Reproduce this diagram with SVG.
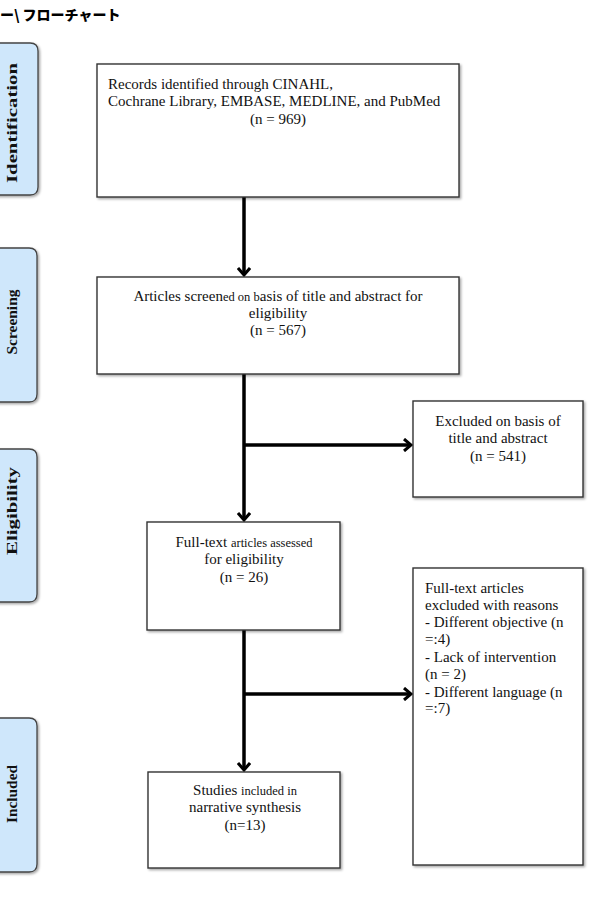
<svg xmlns="http://www.w3.org/2000/svg" width="597" height="912" viewBox="0 0 597 912">
<defs>
<style>
.tab{fill:#cfe7fb;stroke:#444;stroke-width:1.3}
.tabt{font-family:"Liberation Serif",serif;font-weight:bold;font-size:14px;fill:#111;text-anchor:middle}
.box{fill:#fff;stroke:#333;stroke-width:1.4}
.t{font-family:"Liberation Serif",serif;font-size:15px;fill:#111}
.c{text-anchor:middle}
.sm{font-size:12.5px}
.ln{stroke:#000;stroke-width:3.5;fill:none}
</style>
<filter id="sh" x="-5%" y="-5%" width="115%" height="115%">
<feDropShadow dx="1.5" dy="1.5" stdDeviation="1" flood-color="#000" flood-opacity="0.35"/>
</filter>
<marker id="ah" markerWidth="12" markerHeight="14" refX="9" refY="7" orient="auto" markerUnits="userSpaceOnUse">
<path d="M2,1 L9,7 L2,13" fill="none" stroke="#000" stroke-width="3"/>
</marker>
</defs>
<rect width="597" height="912" fill="#fff"/>
<text x="0" y="20" font-family="'Noto Sans CJK JP',sans-serif" font-weight="900" font-size="14" fill="#000">ー\ フローチャート</text>

<g id="tab-identification">
<path class="tab" d="M-5,43 H30 Q38,43 38,51 V187 Q38,195 30,195 H-5 Z" filter="url(#sh)"/>
<text class="tabt" transform="translate(17,123) rotate(-90)" textLength="120" lengthAdjust="spacingAndGlyphs">Identification</text>
</g>
<g id="tab-screening">
<path class="tab" d="M-5,248 H29 Q37,248 37,256 V394 Q37,402 29,402 H-5 Z" filter="url(#sh)"/>
<text class="tabt" transform="translate(17,322) rotate(-90)" textLength="65" lengthAdjust="spacingAndGlyphs">Screening</text>
</g>
<g id="tab-eligibility">
<path class="tab" d="M-5,449 H29 Q37,449 37,457 V594 Q37,602 29,602 H-5 Z" filter="url(#sh)"/>
<text class="tabt" transform="translate(17,511) rotate(-90)" textLength="88" lengthAdjust="spacingAndGlyphs">Eligibility</text>
</g>
<g id="tab-included">
<path class="tab" d="M-5,718 H29 Q37,718 37,726 V864 Q37,872 29,872 H-5 Z" filter="url(#sh)"/>
<text class="tabt" transform="translate(17,794) rotate(-90)" textLength="58" lengthAdjust="spacingAndGlyphs">Included</text>
</g>

<g id="connectors">
<line class="ln" x1="244" y1="197" x2="244" y2="275" marker-end="url(#ah)"/>
<line class="ln" x1="244" y1="374" x2="244" y2="520" marker-end="url(#ah)"/>
<line class="ln" x1="244" y1="445" x2="411" y2="445" marker-end="url(#ah)"/>
<line class="ln" x1="244" y1="630" x2="244" y2="770" marker-end="url(#ah)"/>
<line class="ln" x1="244" y1="694" x2="411" y2="694" marker-end="url(#ah)"/>
</g>

<g id="records">
<rect class="box" x="97" y="64" width="362" height="133" filter="url(#sh)"/>
<text class="t" x="108" y="89">Records identified through CINAHL,</text>
<text class="t" x="108" y="106">Cochrane Library, EMBASE, MEDLINE, and PubMed</text>
<text class="t c" x="278" y="124">(n = 969)</text>
</g>
<g id="screened">
<rect class="box" x="97" y="277" width="362" height="97" filter="url(#sh)"/>
<text class="t c" x="278" y="301">Articles screen<tspan class="sm">ed on b</tspan>asis of title and abstract for</text>
<text class="t c" x="278" y="318">eligibility</text>
<text class="t c" x="278" y="335">(n = 567)</text>
</g>
<g id="excluded">
<rect class="box" x="413" y="401" width="170" height="96" filter="url(#sh)"/>
<text class="t c" x="498" y="426">Excluded on basis of</text>
<text class="t c" x="498" y="443">title and abstract</text>
<text class="t c" x="498" y="461">(n = 541)</text>
</g>
<g id="fulltext">
<rect class="box" x="147" y="522" width="193" height="108" filter="url(#sh)"/>
<text class="t c" x="244" y="547">Full-text <tspan class="sm">articles assessed</tspan></text>
<text class="t c" x="244" y="564">for eligibility</text>
<text class="t c" x="244" y="582">(n = 26)</text>
</g>
<g id="fulltext-excluded">
<rect class="box" x="413" y="568" width="170" height="297" filter="url(#sh)"/>
<text class="t" x="425" y="593">Full-text articles</text>
<text class="t" x="425" y="610">excluded with reasons</text>
<text class="t" x="425" y="627">- Different objective (n</text>
<text class="t" x="425" y="644">=:4)</text>
<text class="t" x="425" y="662">- Lack of intervention</text>
<text class="t" x="425" y="679">(n = 2)</text>
<text class="t" x="425" y="697">- Different language (n</text>
<text class="t" x="425" y="713">=:7)</text>
</g>
<g id="included">
<rect class="box" x="148" y="772" width="192" height="96" filter="url(#sh)"/>
<text class="t c" x="245" y="795">Studies <tspan class="sm">included in</tspan></text>
<text class="t c" x="245" y="812">narrative synthesis</text>
<text class="t c" x="245" y="830">(n=13)</text>
</g>
</svg>
